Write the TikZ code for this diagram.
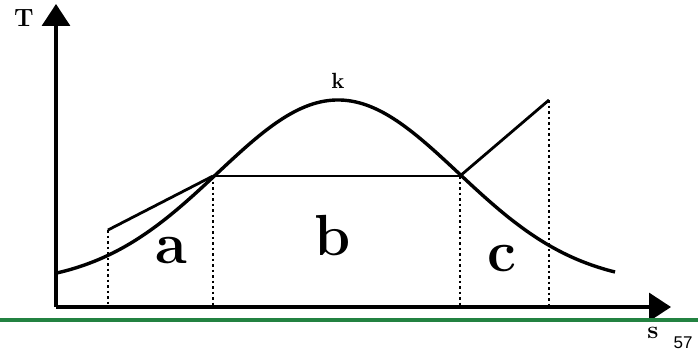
\documentclass[tikz,border=0pt]{standalone}
\usepackage{fontspec}
\newfontfamily\labelsans{Liberation Sans}
\usetikzlibrary{arrows.meta,calc}
\definecolor{tsgreen}{RGB}{35,130,65}

\begin{document}
\begin{tikzpicture}[x=1pt,y=-1pt,
    axis/.style={line width=3.2pt, -{Triangle[width=28pt,length=22pt]}},
    curve/.style={line width=3.4pt},
    tieline/.style={line width=2.8pt},
    dotline/.style={line width=2.8pt, dash pattern=on 2.5pt off 3pt},
    region/.style={font=\fontsize{58}{58}\selectfont\bfseries}]
  \useasboundingbox (0,0) rectangle (698,353);
  % axes
  \coordinate (o) at (56,307);
  \draw[axis] (o) -- (56,4);
  \draw[axis] (o) -- (671,307);
  \draw[tsgreen, line width=4pt] (0,320) -- (698,320);
  \node[font=\fontsize{25}{25}\selectfont\bfseries] (T) at (24,18) {T};
  \node[font=\fontsize{25}{25}\selectfont\bfseries] (s) at (653,333) {s};
  \node[font=\fontsize{17}{17}\selectfont\labelsans, inner sep=1pt] (num) at (683,343) {57};
  % saturation curve
  \draw[curve] plot[domain=57:615, samples=120, smooth] (\x, {100+185*(1-exp(-((\x-338)/170)^2))});
  \node[font=\fontsize{22}{22}\selectfont\bfseries] (k) at (338,81) {k};
  % process lines
  \coordinate (a1) at (108,230);
  \coordinate (a2) at (213,176);
  \coordinate (c1) at (460,176);
  \coordinate (c2) at (549,100);
  \draw[tieline] (a1) -- (a2);
  \draw[line width=2.2pt] (a2) -- (c1);
  \draw[tieline] (c1) -- (c2);
  % dotted verticals
  \foreach \p in {a1,a2,c1,c2}
    \draw[dotline] (\p) -- (\p |- o);
  \node[region] (a) at (171,251) {a};
  \node[region] (b) at (333,236) {b};
  \node[region] (c) at (502,259) {c};
\end{tikzpicture}
\end{document}
